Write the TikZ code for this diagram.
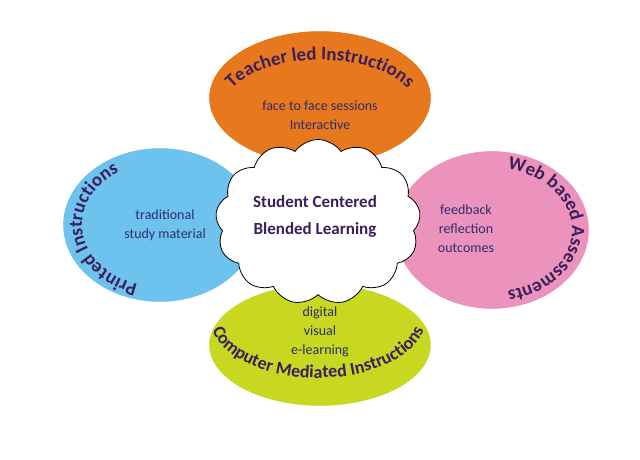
\documentclass[tikz,border=0pt]{standalone}
\usepackage{fontspec}
\setmainfont{Carlito}
\usetikzlibrary{shapes.symbols,decorations.text}
\definecolor{cor}{HTML}{E8781E}
\definecolor{cbl}{HTML}{6EC3EE}
\definecolor{cpk}{HTML}{EC93BD}
\definecolor{cgr}{HTML}{C8D820}
\definecolor{ctit}{HTML}{3B1F5A}
\definecolor{cbody}{HTML}{2D2D6E}
\tikzset{
  petal/.style={draw=white,line width=2pt},
  body/.style={font=\fontsize{14}{19}\selectfont,text=cbody,align=center},
  curved/.style={decorate,decoration={text along path,text align=center,text={#1}}}
}
\begin{document}
\begin{tikzpicture}[x=1pt,y=1pt]
\useasboundingbox (0,0) rectangle (640,460);
\fill[petal,fill=cor] (320,362) ellipse [x radius=112pt,y radius=68pt];
\fill[petal,fill=cgr] (320,115) ellipse [x radius=112pt,y radius=62pt];
\fill[petal,fill=cbl] (160,235) ellipse [x radius=98pt,y radius=78pt];
\fill[petal,fill=cpk] (492,230) ellipse [x radius=98pt,y radius=80pt];
\draw[white,line width=2pt] (320,362) ellipse [x radius=112pt,y radius=68pt];
\draw[white,line width=2pt] (320,115) ellipse [x radius=112pt,y radius=62pt];
\draw[white,line width=2pt] (160,235) ellipse [x radius=98pt,y radius=78pt];
\draw[white,line width=2pt] (492,230) ellipse [x radius=98pt,y radius=80pt];
% curved titles
\path[curved={|\fontsize{19}{19}\bfseries\color{ctit}|Teacher led Instructions}]
  (320,352) ++(170:96pt and 48pt) arc[start angle=170,end angle=10,x radius=96pt,y radius=48pt];
\path[curved={|\fontsize{18}{18}\bfseries\color{ctit}|Computer Mediated Instructions}]
  (318,142) ++(188:108pt and 60pt) arc[start angle=188,end angle=352,x radius=108pt,y radius=60pt];
\path[curved={|\fontsize{19}{19}\bfseries\color{ctit}|Printed Instructions}]
  (160,235) ++(300:78pt and 62pt) arc[start angle=300,end angle=75,x radius=78pt,y radius=62pt];
\path[curved={|\fontsize{19}{19}\bfseries\color{ctit}|Web based Assessments}]
  (492,230) ++(118:80pt and 62pt) arc[start angle=118,end angle=-118,x radius=80pt,y radius=62pt];
% cloud
\node[cloud,draw=black,fill=white,cloud puffs=13,cloud puff arc=110,aspect=1.3,
  minimum width=205pt,minimum height=165pt,inner sep=0pt,line width=0.8pt] (cl) at (318,238) {};
\node[font=\fontsize{17}{27}\bfseries\selectfont,text=ctit,align=center] (ct) at (315,244)
  {Student Centered\\Blended Learning};
% body text
\node[body] (t1) at (320,345) {face to face sessions\\Interactive};
\node[body] (t2) at (165,235) {traditional\\study material};
\node[body] (t3) at (466,231) {feedback\\reflection\\outcomes};
\node[body] (t4) at (320,128) {digital\\visual\\e-learning};
\end{tikzpicture}
\end{document}
